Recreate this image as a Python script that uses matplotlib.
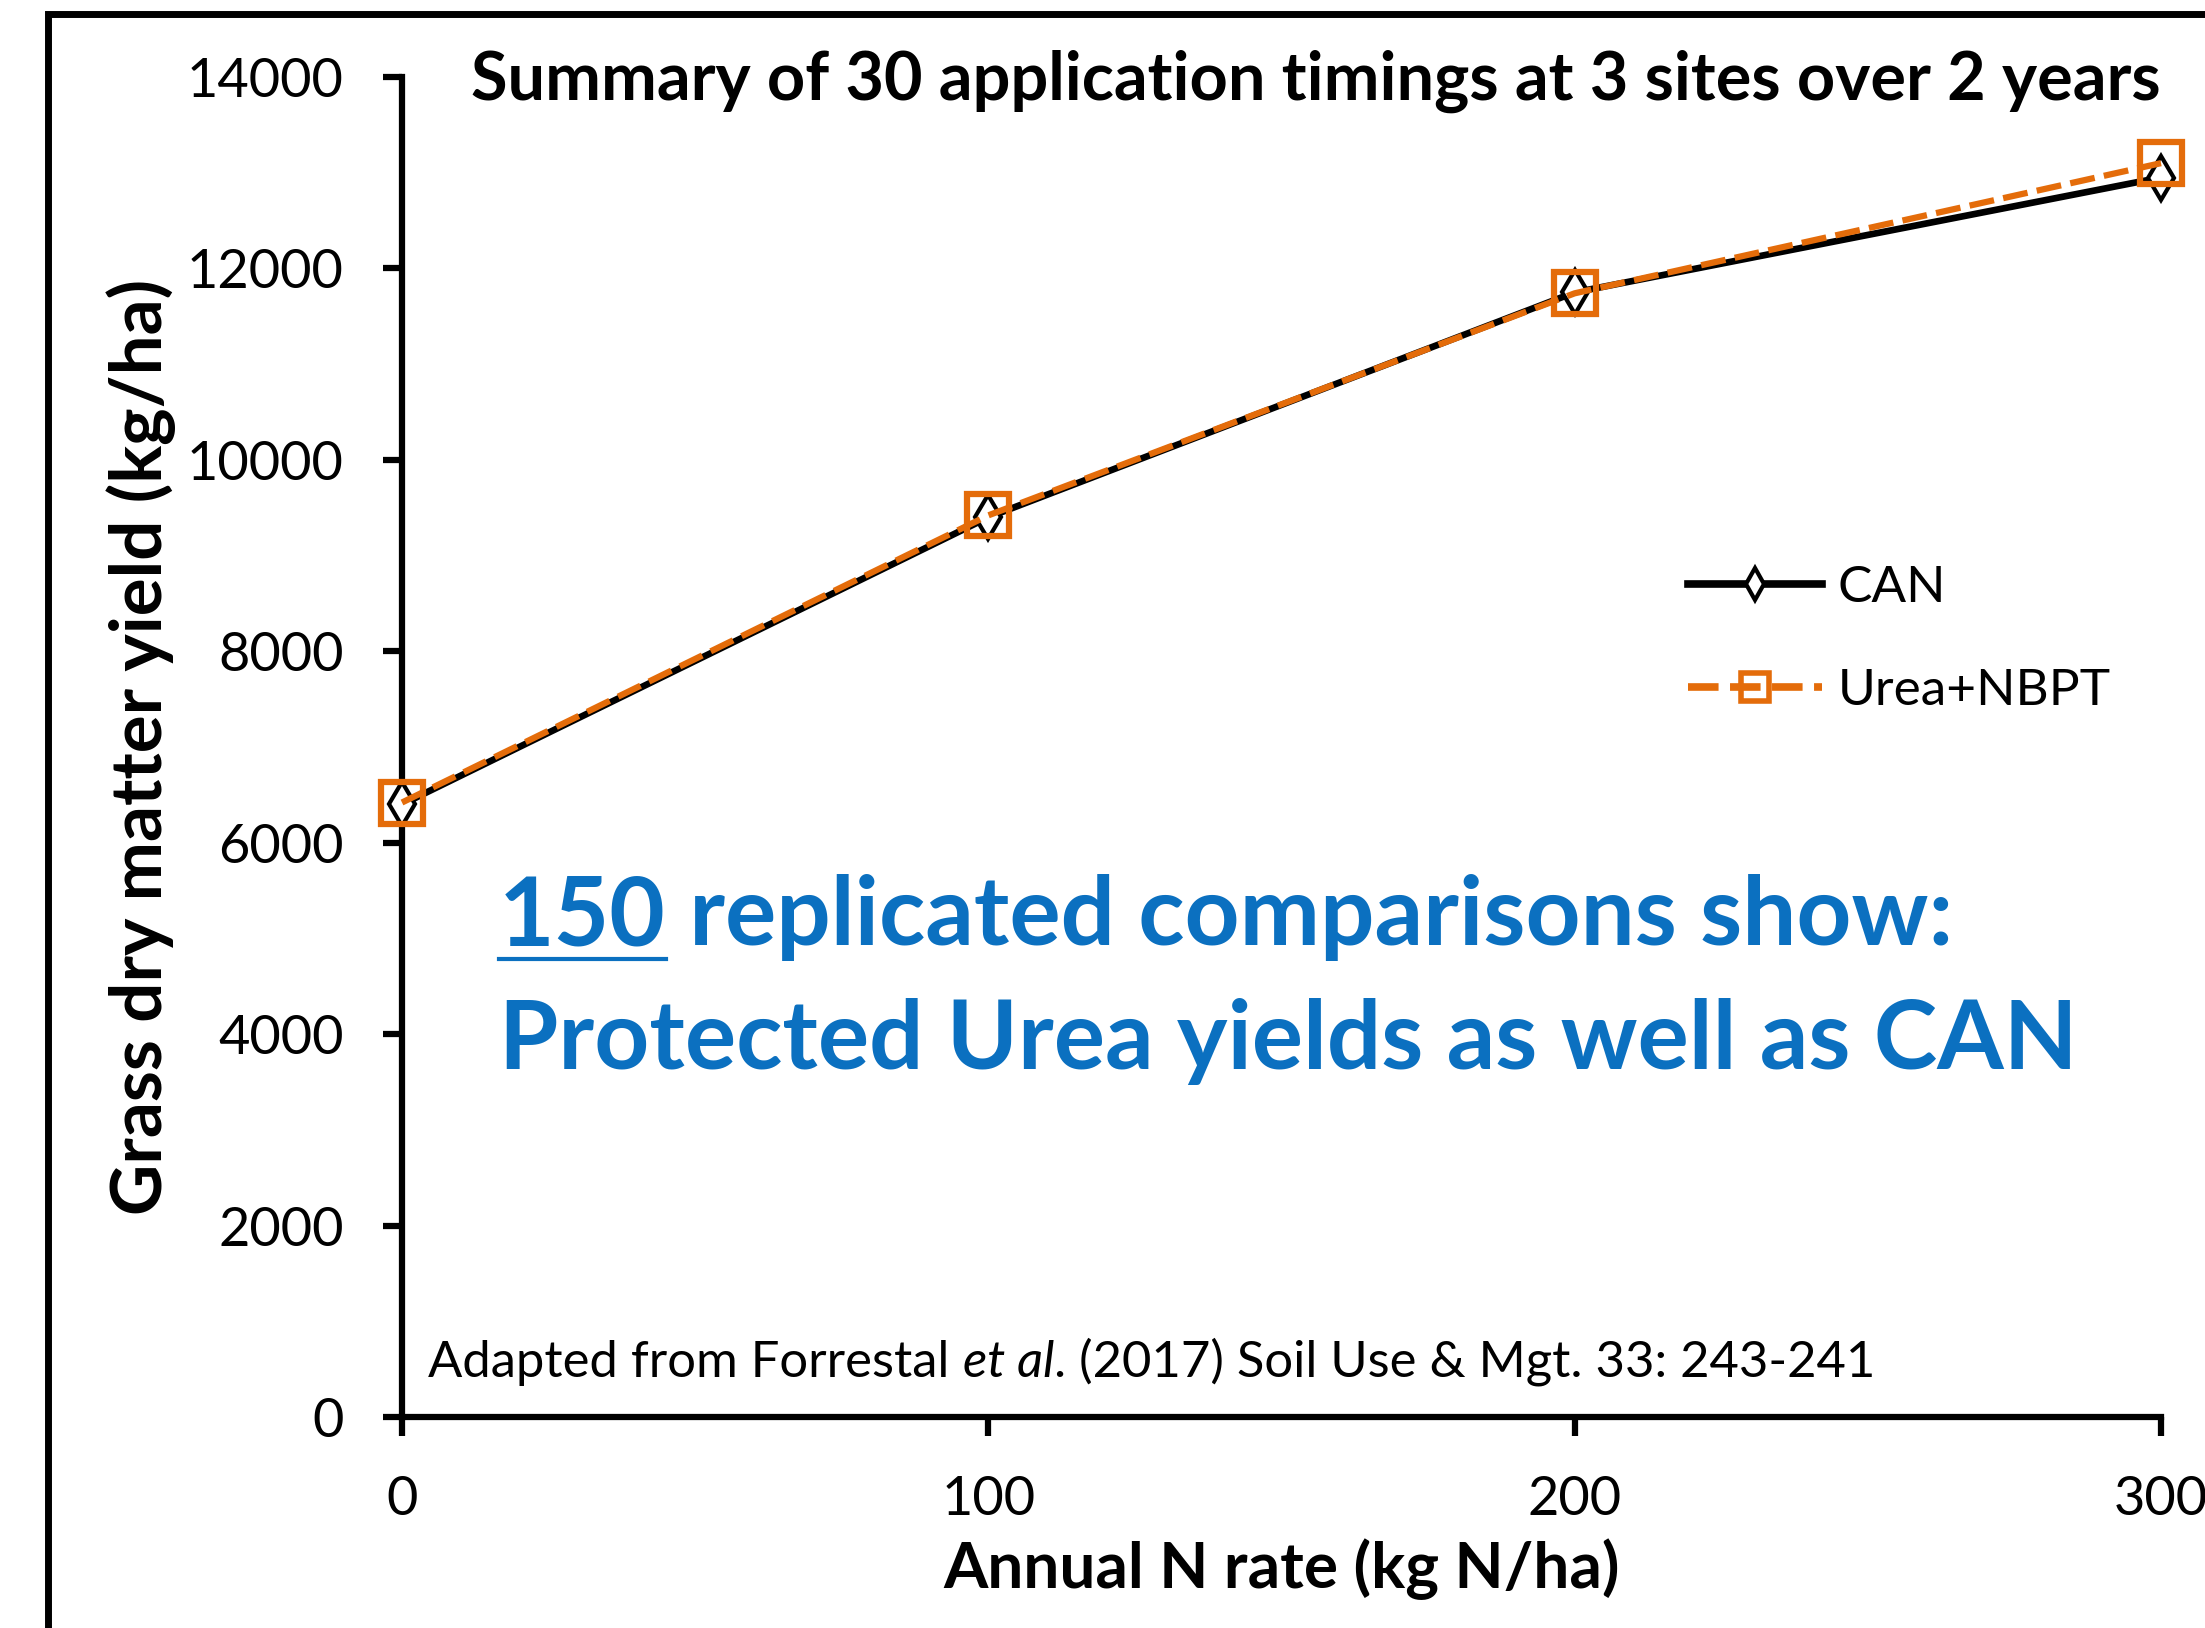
import matplotlib
matplotlib.use('Agg')
import matplotlib.pyplot as plt
from matplotlib.lines import Line2D
from matplotlib.patches import Rectangle

plt.rcParams['font.family'] = ['Lato', 'DejaVu Sans']

# data
n_rate = [0, 100, 200, 300]
can = [6400, 9400, 11750, 12950]
urea_nbpt = [6420, 9420, 11740, 13100]
y_ticks = [0, 2000, 4000, 6000, 8000, 10000, 12000, 14000]
x_ticks = [0, 100, 200, 300]

orange = '#E46C0A'
blue = '#0B70C0'

fig = plt.figure(figsize=(22.05, 16.28), dpi=100)
ax = fig.add_axes([402 / 2205, 1 - 1417 / 1628, (2161 - 402) / 2205, (1417 - 77) / 1628])

# outer frame (cropped on right and bottom)
fig.patches.append(Rectangle((48 / 2205, -0.05), 1.2, 1 - 14 / 1628 + 0.05,
                             transform=fig.transFigure, fill=False,
                             edgecolor='black', linewidth=5))

ax.plot(n_rate, can, color='black', lw=4.8, marker='d', markersize=22,
        markerfacecolor='white', markeredgecolor='black', markeredgewidth=3,
        label='CAN', clip_on=False, zorder=3)
ax.plot(n_rate, urea_nbpt, color=orange, lw=4.5, ls=(0, (4, 1.5)), marker='s',
        markersize=30, markerfacecolor='none', markeredgecolor=orange,
        markeredgewidth=4.5, label='Urea+NBPT', clip_on=False, zorder=4)

ax.set_xlim(0, 300)
ax.set_ylim(0, 14000)
ax.set_xticks(x_ticks)
ax.set_yticks(y_ticks)
ax.spines['top'].set_visible(False)
ax.spines['right'].set_visible(False)
for s in ['left', 'bottom']:
    ax.spines[s].set_linewidth(4.5)
ax.tick_params(direction='out', length=14, width=4.5, labelsize=39, pad=28)
ax.set_xlabel('Annual N rate (kg N/ha)', fontsize=46, fontweight='bold', labelpad=10)
ax.set_ylabel('Grass dry matter yield (kg/ha)', fontsize=51, fontweight='bold', labelpad=8)

ax.text(1.0, 0.997, 'Summary of 30 application timings at 3 sites over 2 years',
        transform=ax.transAxes, ha='right', va='center', fontsize=48, fontweight='bold')

leg = ax.legend(loc='upper left', bbox_to_anchor=(0.705, 0.67), frameon=False,
                fontsize=37, handlelength=2.6, handletextpad=0.3, labelspacing=1.1)
leg.legend_handles[0].set_markersize(16)
leg.legend_handles[0].set_linewidth(5.5)
leg.legend_handles[1].set_markersize(20)
leg.legend_handles[1].set_markeredgewidth(4)
leg.legend_handles[1].set_linewidth(5.5)

# blue message with underlined "150"
t150 = ax.text(0.055, 0.352, '150', transform=ax.transAxes, fontsize=69,
               fontweight='bold', color=blue, va='baseline')
ax.annotate(' replicated comparisons show:', xy=(1, 0), xycoords=t150,
            fontsize=69, fontweight='bold', color=blue, va='bottom')
ax.text(0.055, 0.26, 'Protected Urea yields as well as CAN', transform=ax.transAxes,
        fontsize=69, fontweight='bold', color=blue, va='baseline')

# source note with italic "et al."
s1 = ax.text(0.015, 0.03, 'Adapted from Forrestal ', transform=ax.transAxes,
             fontsize=36.5, va='baseline')
s2 = ax.annotate('et al', xy=(1, 0), xycoords=s1, fontsize=36.5, style='italic', va='bottom')
ax.annotate('. (2017) Soil Use & Mgt. 33: 243-241', xy=(1, 0), xycoords=s2,
            fontsize=36.5, va='bottom')

fig.canvas.draw()
bb = t150.get_window_extent()
uy = bb.y0 + 2
fig.add_artist(Line2D([bb.x0 / fig.bbox.width, bb.x1 / fig.bbox.width],
                      [uy / fig.bbox.height, uy / fig.bbox.height],
                      transform=fig.transFigure, color=blue, lw=3))

fig.savefig('out.png', dpi=100)
